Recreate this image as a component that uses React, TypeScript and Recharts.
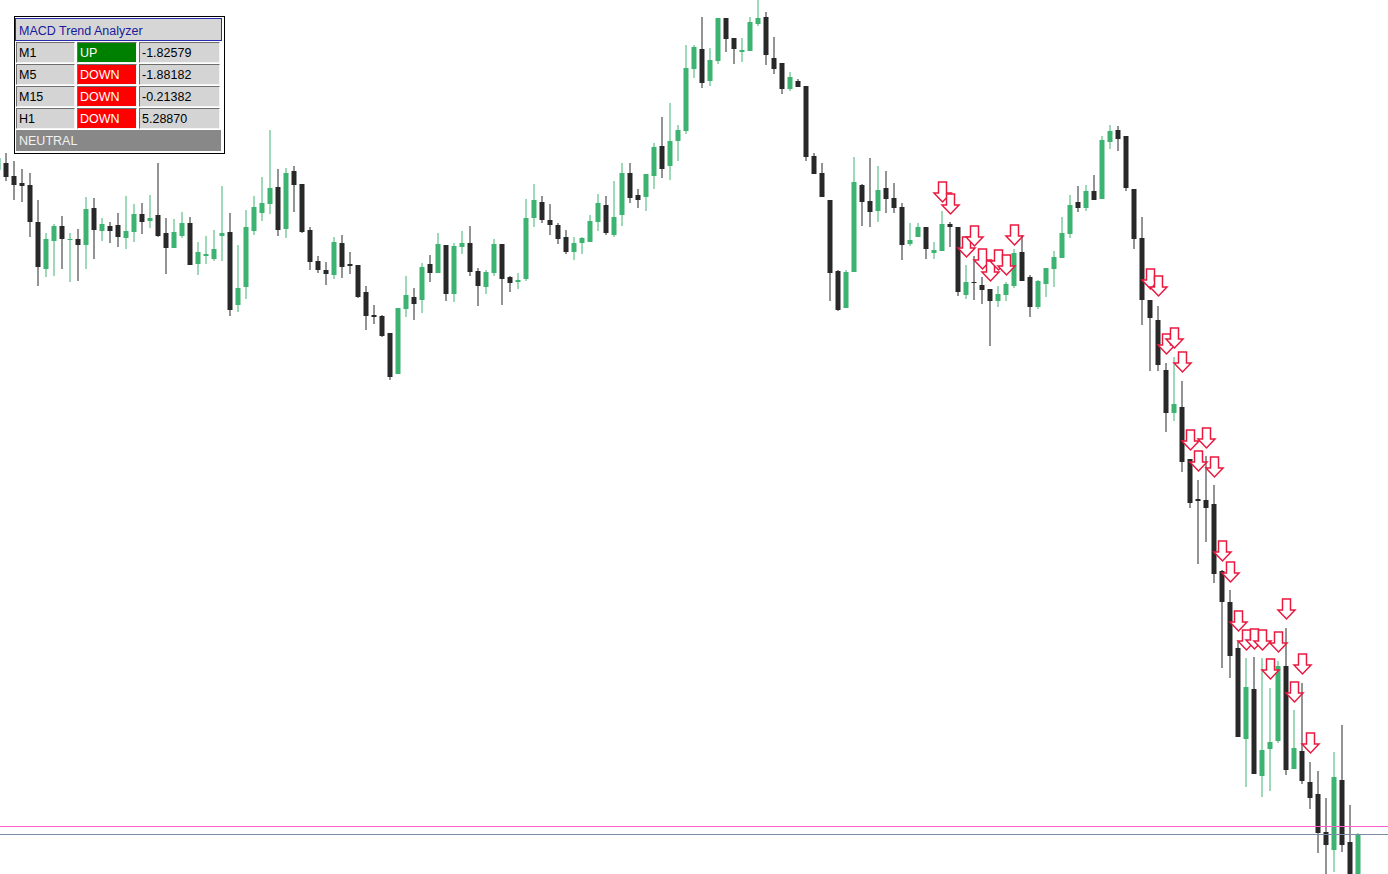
import { Bar, ComposedChart, ReferenceLine, Scatter, XAxis, YAxis } from 'recharts';

// price in points, bar -1 is the half-visible candle on the left edge
const FIRST_BAR = -1;

const OPEN = [
  704,
  711, 698, 691, 689, 652, 605, 633, 648, 634, 635,
  629, 666, 643, 648, 649, 636, 642, 660, 653, 659,
  641, 626, 638, 651, 610, 618, 615, 638, 642, 569,
  587, 643, 661, 670, 687, 645, 703, 690, 644, 613,
  604, 599, 631, 610, 609, 582, 559, 558, 541, 500,
  565, 577, 574, 610, 601, 629, 580, 627, 631, 603,
  587, 601, 630, 597, 592, 595, 656, 672, 654, 649,
  637, 622, 631, 632, 652, 669, 639, 659, 701, 679,
  677, 698, 728, 708, 733, 743, 805, 825, 793, 813,
  856, 836, 822, 823, 850, 857, 816, 811, 785, 793,
  788, 718, 701, 674, 603, 566, 602, 689, 673, 663,
  686, 676, 667, 630, 637, 647, 621, 623, 650, 647,
  579, 592, 589, 585, 573, 579, 588, 622, 597, 567,
  590, 605, 616, 640, 672, 666, 683, 675, 732, 744,
  738, 685, 636, 574, 554, 504, 461, 467, 415, 375,
  374, 370, 303, 272, 226, 135, 185, 98, 125, 133,
  208, 105, 123, 92, 80, 42, 24, 94, 32, -20,
];

const HIGH = [
  719,
  721, 713, 705, 701, 674, 641, 650, 658, 641, 645,
  677, 676, 656, 652, 661, 678, 670, 671, 679, 711,
  656, 655, 662, 657, 632, 638, 644, 688, 661, 629,
  664, 678, 697, 744, 705, 706, 708, 690, 647, 618,
  612, 637, 639, 622, 609, 588, 569, 559, 541, 566,
  598, 586, 611, 619, 641, 629, 631, 643, 648, 606,
  604, 635, 630, 598, 601, 675, 690, 678, 670, 651,
  644, 637, 637, 659, 680, 678, 693, 711, 711, 685,
  700, 731, 757, 771, 749, 829, 829, 857, 826, 856,
  856, 836, 836, 857, 878, 862, 837, 811, 802, 795,
  788, 721, 711, 674, 604, 604, 717, 690, 716, 708,
  703, 691, 671, 651, 651, 647, 632, 663, 652, 647,
  609, 618, 597, 585, 588, 592, 625, 639, 599, 594,
  606, 623, 657, 679, 688, 689, 699, 738, 749, 748,
  738, 685, 657, 574, 568, 511, 517, 493, 415, 394,
  418, 389, 304, 284, 233, 216, 217, 216, 186, 213,
  246, 164, 191, 112, 103, 76, 122, 149, 69, 41,
];

const LOW = [
  702,
  693, 674, 672, 637, 588, 597, 598, 605, 592, 593,
  605, 615, 633, 631, 627, 625, 632, 640, 646, 637,
  600, 626, 636, 609, 599, 610, 613, 613, 558, 562,
  575, 639, 653, 660, 638, 636, 662, 641, 604, 601,
  589, 595, 596, 600, 576, 544, 550, 537, 494, 500,
  557, 554, 561, 592, 601, 573, 572, 620, 598, 568,
  580, 598, 569, 582, 585, 593, 647, 651, 639, 630,
  620, 614, 620, 632, 643, 639, 637, 648, 671, 666,
  663, 685, 696, 694, 713, 740, 796, 786, 788, 810,
  822, 810, 812, 823, 848, 809, 800, 780, 783, 787,
  713, 700, 677, 573, 563, 566, 602, 648, 647, 652,
  661, 661, 614, 628, 637, 615, 615, 623, 627, 578,
  575, 574, 570, 528, 567, 573, 586, 593, 557, 565,
  577, 587, 616, 636, 662, 663, 674, 675, 725, 723,
  683, 625, 549, 503, 503, 442, 453, 402, 366, 310,
  332, 291, 206, 196, 137, 87, 100, 77, 83, 131,
  99, 105, 90, 65, 21, -5, 2, 22, -26, -26,
];

const CLOSE = [
  716,
  697, 689, 688, 652, 607, 635, 648, 635, 635, 629,
  665, 644, 650, 643, 637, 643, 660, 652, 656, 638,
  626, 642, 651, 609, 622, 620, 625, 641, 564, 586,
  647, 667, 671, 686, 644, 701, 689, 642, 612, 604,
  600, 632, 607, 608, 577, 558, 557, 538, 497, 566,
  579, 570, 607, 601, 630, 580, 628, 631, 602, 588,
  602, 630, 595, 591, 594, 656, 674, 654, 649, 635,
  622, 631, 636, 653, 671, 641, 657, 701, 676, 674,
  700, 727, 705, 733, 744, 806, 827, 791, 814, 856,
  835, 825, 824, 852, 856, 819, 805, 785, 797, 787,
  717, 700, 677, 601, 564, 602, 692, 672, 662, 684,
  675, 666, 629, 634, 647, 625, 624, 650, 647, 582,
  592, 591, 584, 573, 580, 590, 621, 593, 567, 593,
  606, 617, 641, 669, 666, 683, 674, 734, 743, 735,
  686, 635, 574, 556, 509, 461, 470, 412, 371, 373,
  366, 300, 272, 218, 137, 187, 100, 124, 132, 208,
  104, 126, 93, 76, 41, 29, 97, 29, -20, 40,
];

// sell signal arrows: bar number and the price of the arrow tip
const ARROW_BARS = [
  117, 118, 120, 121, 122, 123, 124, 125, 126,
  143, 144, 145, 146, 147, 148, 149, 150, 151, 152,
  153, 154, 155, 156, 157, 158, 159, 160, 161, 162, 163,
];
const ARROW_PRICES = [
  672, 660, 617, 628, 605, 593, 604, 599, 629,
  585, 578, 520, 526, 502, 424, 403, 426, 397, 313,
  292, 243, 224, 225, 224, 195, 222, 255, 172, 200, 121,
];

const BID_LEVEL = 47.5;
const ASK_LEVEL = 39.5;

const TIMEFRAMES = ['M1', 'M5', 'M15', 'H1'];
const TRENDS = ['UP', 'DOWN', 'DOWN', 'DOWN'];
const MACD_VALUES = ['-1.82579', '-1.88182', '-0.21382', '5.28870'];
const SUMMARY = 'NEUTRAL';

const GREEN = '#3cb371';
const DARK = '#282828';

const candles = OPEN.map((o, k) => ({
  i: k + FIRST_BAR,
  o,
  h: HIGH[k],
  l: LOW[k],
  c: CLOSE[k],
  range: [LOW[k], HIGH[k]],
}));

const arrows = ARROW_BARS.map((i, k) => ({ i, p: ARROW_PRICES[k] }));

function Candle(props: any) {
  const { x, y, width, height, payload } = props;
  if (payload == null || x == null) return null;
  const { o, h, l, c } = payload;
  const top = Math.min(y, y + height);
  const hgt = Math.abs(height);
  const cx = x + width / 2;
  const py = (v: number) => top + ((h - v) / (h - l)) * hgt;
  const color = c > o ? GREEN : DARK;
  const bTop = py(Math.max(o, c));
  const bBot = py(Math.min(o, c));
  return (
    <g>
      <line x1={cx} x2={cx} y1={top} y2={top + hgt} stroke={color} strokeWidth={1} />
      <rect x={cx - 2.5} y={bTop} width={5} height={Math.max(1, bBot - bTop)} fill={color} />
    </g>
  );
}

function Arrow(props: any) {
  const { cx, cy } = props;
  if (cx == null || cy == null) return null;
  const d = `M${cx - 4},${cy - 20} L${cx + 4},${cy - 20} L${cx + 4},${cy - 9} L${cx + 8.5},${cy - 9} L${cx},${cy} L${cx - 8.5},${cy - 9} L${cx - 4},${cy - 9} Z`;
  return <path d={d} fill="#fff" stroke="#e8183f" strokeWidth={1.5} strokeLinejoin="miter" />;
}

const font = "'Liberation Sans', Arial, sans-serif";

function Cell({ left, top, width, text, bg, color }: any) {
  return (
    <div
      style={{
        position: 'absolute',
        left,
        top,
        width,
        height: 21,
        boxSizing: 'border-box',
        background: bg,
        color,
        borderTop: '1px solid #6e6e6e',
        borderLeft: '1px solid #6e6e6e',
        borderRight: '1px solid #f4f4f4',
        borderBottom: '1px solid #f4f4f4',
        fontFamily: font,
        fontSize: 12.5,
        lineHeight: '21px',
        paddingLeft: 2,
        whiteSpace: 'nowrap',
      }}
    >
      {text}
    </div>
  );
}

function Panel() {
  return (
    <div>
      <div
        style={{
          position: 'absolute',
          left: 14,
          top: 16,
          width: 211,
          height: 138,
          boxSizing: 'border-box',
          border: '1px solid #000',
          background: '#fff',
        }}
      />
      <div
        style={{
          position: 'absolute',
          left: 15,
          top: 18,
          width: 207,
          height: 23,
          boxSizing: 'border-box',
          background: '#d6d6d6',
          border: '1px solid #2a2ab0',
          color: '#1a1a9c',
          fontFamily: font,
          fontSize: 12.5,
          lineHeight: '24px',
          paddingLeft: 3,
        }}
      >
        MACD Trend Analyzer
      </div>
      {TIMEFRAMES.map((tf, r) => (
        <div key={tf}>
          <Cell left={16} top={42 + r * 22} width={59} text={tf} bg="#d4d4d4" color="#000" />
          <Cell
            left={77}
            top={42 + r * 22}
            width={60}
            text={TRENDS[r]}
            bg={TRENDS[r] === 'UP' ? '#008000' : '#ff0000'}
            color="#fff"
          />
          <Cell left={139} top={42 + r * 22} width={81} text={MACD_VALUES[r]} bg="#d4d4d4" color="#000" />
        </div>
      ))}
      <div
        style={{
          position: 'absolute',
          left: 16,
          top: 130,
          width: 205,
          height: 21,
          background: '#888888',
          color: '#f2f2f2',
          fontFamily: font,
          fontSize: 12.5,
          lineHeight: '22px',
          paddingLeft: 3,
          boxSizing: 'border-box',
        }}
      >
        {SUMMARY}
      </div>
    </div>
  );
}

export default function App() {
  const lo = -6.5 / 8;
  const hi = lo + 1388 / 8;
  return (
    <div style={{ position: 'absolute', left: 0, top: 0, width: 1388, height: 874, background: '#fff', overflow: 'hidden' }}>
      <ComposedChart width={1388} height={874} data={candles} margin={{ top: 0, right: 0, bottom: 0, left: 0 }}>
        <XAxis dataKey="i" type="number" domain={[lo, hi]} allowDataOverflow hide />
        <YAxis type="number" domain={[0, 874]} allowDataOverflow hide />
        <ReferenceLine y={BID_LEVEL} stroke="#ff5ec8" strokeWidth={1} />
        <ReferenceLine y={ASK_LEVEL} stroke="#7d8ca6" strokeWidth={1} />
        <Bar dataKey="range" barSize={5} shape={<Candle />} isAnimationActive={false} />
        <Scatter data={arrows} dataKey="p" shape={<Arrow />} isAnimationActive={false} />
      </ComposedChart>
      <Panel />
    </div>
  );
}
